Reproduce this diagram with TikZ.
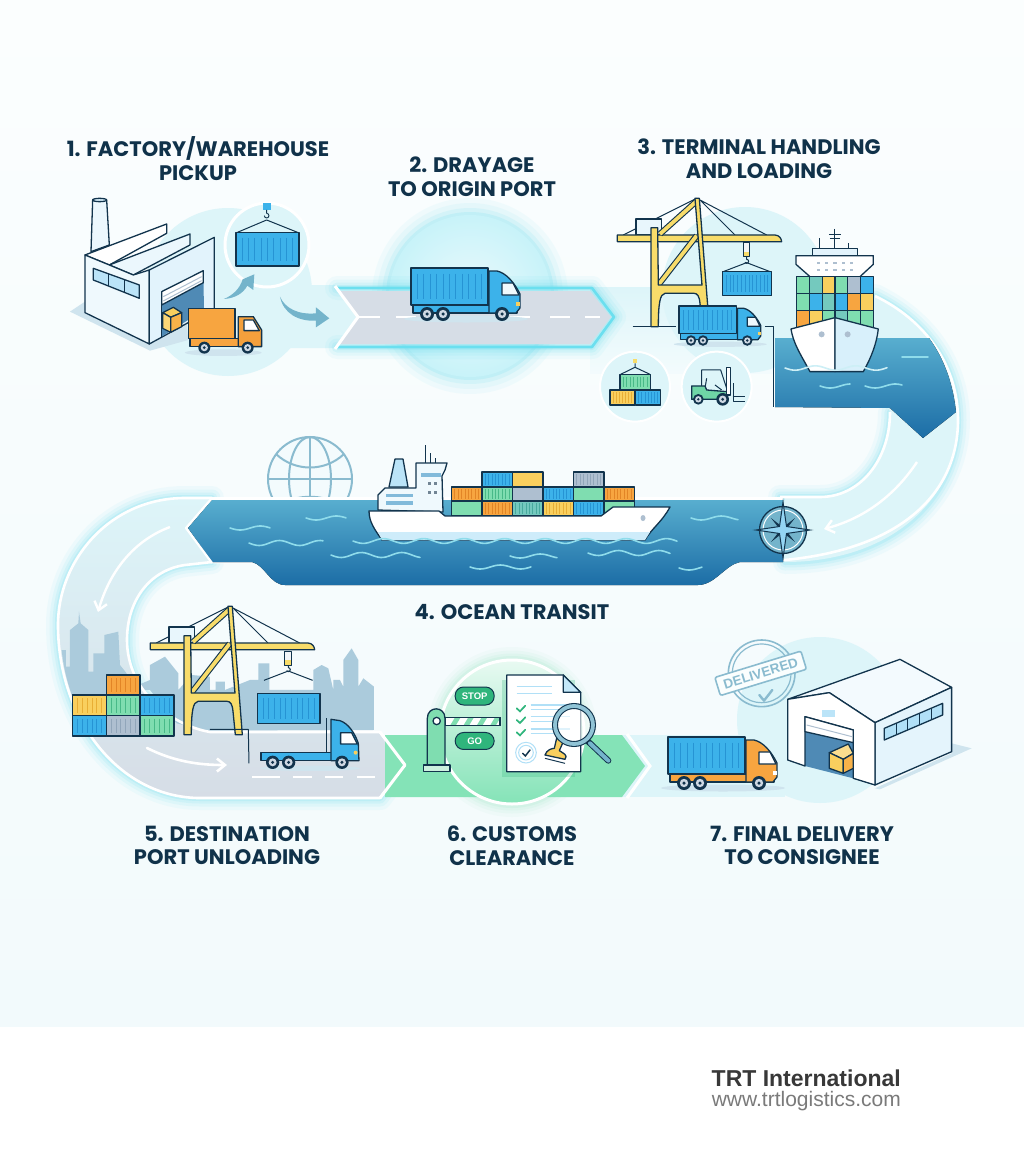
\documentclass[tikz,border=0pt]{standalone}
\usepackage{fontspec}
\setmainfont{Liberation Sans}
\newfontfamily\hdfont{Poppins}
\usetikzlibrary{arrows.meta}
\definecolor{navy}{HTML}{12344D}
\definecolor{hdc}{HTML}{10324A}
\definecolor{glowc}{HTML}{3AD4EA}
\definecolor{pale}{HTML}{DDF5F9}
\definecolor{cB}{HTML}{3CB2EA}\definecolor{rB}{HTML}{2694D4}
\definecolor{cO}{HTML}{F7A540}\definecolor{rO}{HTML}{E28526}
\definecolor{cG}{HTML}{7FDDB0}\definecolor{rG}{HTML}{48B988}
\definecolor{cY}{HTML}{F9CF5E}\definecolor{rY}{HTML}{E8AE35}
\definecolor{cT}{HTML}{74C9BE}\definecolor{rT}{HTML}{48AA9E}
\definecolor{cA}{HTML}{AEBFD0}\definecolor{rA}{HTML}{91A6BA}
\definecolor{seaT}{HTML}{58AECF}\definecolor{seaB}{HTML}{1C6DA6}
\definecolor{cranec}{HTML}{F8DC6A}
\definecolor{arrc}{HTML}{74B4CB}
\definecolor{wavc}{HTML}{8FDCEB}
\definecolor{stampc}{HTML}{8ABBCF}
\definecolor{sky}{HTML}{ABCBDC}
\definecolor{shad}{HTML}{CFE4EE}
\definecolor{roadc}{HTML}{D6DDE6}
\definecolor{greenb}{HTML}{84E3B7}
\definecolor{greend}{HTML}{2FB57C}
\definecolor{bgtop}{HTML}{FBFEFE}
\definecolor{bgbot}{HTML}{F2FAFC}
\tikzset{
  ol/.style={draw=navy,line width=1.3pt,line join=round},
  thinl/.style={navy,line width=1pt,line join=round},
  hd/.style={font=\hdfont\bfseries\fontsize{21}{23.5}\selectfont,text=hdc,align=center,inner sep=0pt},
}
% glow around a path
\newcommand\glowp[2][glowc]{\foreach \gw/\go in {24/.05,17/.07,11/.09,6/.12}{\draw[#1,line width=\gw pt,opacity=\go,line join=round,line cap=round] #2;}}
% container: x1 y1 x2 y2 kind ribs
\newcommand\ctn[6]{\fill[c#5] (#1,#2) rectangle (#3,#4);
  \ifnum#6>0 \foreach \ii in {1,...,#6}{\pgfmathsetmacro\rx{#1+(#3-#1)*\ii/(#6+1)}
    \draw[r#5,line width=1pt] (\rx,{#2+(#4-#2)*.15}) -- (\rx,{#2+(#4-#2)*.85});}\fi
  \draw[ol] (#1,#2) rectangle (#3,#4);}
% wheel
\newcommand\whl[3]{\fill[navy] (#1,#2) circle[radius=#3pt];\fill[cA!60] (#1,#2) circle[radius=#3*.6pt];\fill[navy] (#1,#2) circle[radius=#3*.25pt];}
% wave
\newcommand\wv[6][wavc]{\draw[#1,line cap=round,line width=1.6pt] plot[smooth,samples=#6,domain=0:#4] ({#2+\x},{#3+#5*sin(\x*8.9)});}
% truck with container, local coordinates
\newcommand\mytruck[4]{\begin{scope}[shift={(#1)},scale=#2]
  \fill[shad] (55,51) ellipse[x radius=62pt,y radius=3.5pt];
  \draw[ol,fill=#3] (2,37) rectangle (106,45);
  \draw[ol,fill=#3] (78,3) -- (86,3) .. controls (95,5) and (103,14) .. (109,26) -- (109,40) -- (105,45) -- (78,45) -- cycle;
  \draw[ol,fill=white!92!cB] (91,15) -- (102,15) -- (108,27) -- (91,27) -- cycle;
  \fill[cY] (105,34) rectangle (109,38);
  \ctn{0}{0}{77}{37}{B}{11}
  \whl{16}{46}{7}\whl{32}{46}{7}\whl{91}{46}{7}
\end{scope}}
% quay crane, local coordinates of the zoomed picture
\newcommand\mycrane[1]{\begin{scope}[shift={(#1)},scale=.3333]
  \draw[thinl] (100,315) -- (320,205) (330,210) -- (435,315) (330,210) -- (530,315);
  \draw[ol,fill=white!88!cB] (138,267) rectangle (215,315);
  \draw[ol,fill=cranec] (82,315) -- (555,315) .. controls (568,316) and (574,325) .. (575,335) -- (82,335) -- cycle;
  \draw[navy,line width=6pt] (210,312) -- (318,215) (205,465) -- (320,317);
  \draw[cranec,line width=3.8pt] (210,312) -- (318,215) (205,465) -- (320,317);
  \draw[ol,fill=cranec] (183,590) -- (183,293) -- (203,293) -- (205,465) -- (336,465) -- (315,205) -- (328,205) -- (358,590) -- (337,590) -- (330,520) .. controls (328,498) and (322,490) .. (312,490) -- (225,490) .. controls (210,492) and (205,520) .. (205,590) -- cycle;
\end{scope}}
% trolley, hook and cables; local coordinates
\newcommand\myhook[2]{\fill[white!85!cA] (#1-10,#2) rectangle (#1+10,#2+27);
  \fill[cranec] (#1-10,#2+27) rectangle (#1+10,#2+42);
  \draw[ol,line width=1pt] (#1-10,#2) rectangle (#1+10,#2+42);
  \draw[thinl] (#1,#2+42) -- (#1,#2+50) arc[start angle=90,end angle=-150,radius=6pt];
  \draw[thinl] (#1-73,#2+88) -- (#1,#2+60) -- (#1+73,#2+88);}
\begin{document}
\begin{tikzpicture}[x=1pt,y=-1pt]
\useasboundingbox (0,0) rectangle (1024,1154);
% background
\fill[top color=bgtop,bottom color=bgbot] (0,0) rectangle (1024,1027);
\fill[white] (0,1027) rectangle (1024,1154);

% ---------- step 1 blobs
\fill[pale] (228,292) circle[radius=84pt];
\fill[pale] (240,285) -- (335,285) -- (357,316) -- (335,348) -- (240,348) -- cycle;
\draw[white,line width=3pt,fill=pale] (267,245) circle[radius=42pt];

% ---------- step 3 blobs and bend
\fill[top color=pale,bottom color=pale!35!white] (590,287) rectangle (774,373);
\fill[pale] (745,290) circle[radius=83pt];
\glowp{(875,296) .. controls (925,320) and (958,365) .. (958,420) .. controls (958,500) and (890,562) .. (785,562)}
\glowp{(890,412) .. controls (890,460) and (860,497) .. (820,497) -- (780,497)}
\fill[pale] (875,296) .. controls (925,320) and (958,365) .. (958,420) .. controls (958,500) and (890,562) .. (785,562) -- (785,497) -- (820,497) .. controls (860,497) and (890,460) .. (890,412) -- (860,338) -- cycle;
\draw[white,line width=2.6pt] (875,296) .. controls (925,320) and (958,365) .. (958,420) .. controls (958,500) and (890,562) .. (740,562);
\draw[white,line width=2.6pt] (890,412) .. controls (890,460) and (860,497) .. (820,497) -- (780,497);
\draw[white,line width=2.4pt,-{Straight Barb[length=8pt,width=13pt]}] (917,462) .. controls (895,495) and (865,518) .. (824,529);

% ---------- step 3 sea
\fill[top color=seaT,bottom color=seaB] (775,338) -- (929,338) .. controls (945,360) and (953,385) .. (956,412) -- (923,438) -- (890,408) -- (775,407) -- cycle;

% ---------- step 2
\foreach \rr/\oo in {98/.05,93/.06,88/.09,84/.12}{\fill[glowc,opacity=\oo] (470,296) circle[radius=\rr pt];}
\shade[inner color=pale!60!white,outer color=glowc!28!white] (470,296) circle[radius=81pt];
\glowp{(337,288) -- (592,288) -- (614,317) -- (592,347) -- (337,347)}
\fill[roadc] (338,291) -- (359,317) -- (338,344) -- (590,344) -- (611,317) -- (590,291) -- cycle;
\draw[glowc!75!white,line width=2.6pt,line join=round] (337,288) -- (592,288) -- (614,317) -- (592,347) -- (337,347);
\draw[white,line width=3pt] (335,286) -- (358,317) -- (335,349);
\foreach \da/\db in {358/380,396/416,430/450,470/490,510/530,550/570,585/600}{\draw[white,line width=2pt] (\da,316.5) -- (\db,316.5);}

% ---------- lower left band with glow
\glowp{(212,498) -- (185,498) .. controls (110,498) and (58,560) .. (58,625) .. controls (58,720) and (120,798) .. (200,798) -- (380,798) -- (405,765)}
\glowp{(212,562) -- (185,565) .. controls (150,570) and (127,600) .. (127,640) .. controls (127,680) and (150,712) .. (185,725)}
\fill[top color=pale,middle color=pale!80!roadc,bottom color=roadc] (212,498) -- (185,498) .. controls (110,498) and (58,560) .. (58,625) .. controls (58,720) and (120,798) .. (200,798) -- (380,798) -- (405,765) -- (380,732) -- (248,732) -- (210,732) .. controls (170,725) and (127,690) .. (127,640) .. controls (127,600) and (150,570) .. (185,565) -- (212,562) -- cycle;
% skyline
\begin{scope}[shift={(50,590)},scale=.3333]
  \fill[sky] (35,180) -- (48,180) -- (48,230) -- (60,230) -- (60,120) -- (85,100) -- (87,65) -- (92,100) -- (115,120) -- (115,245) -- (130,245) -- (130,190) -- (163,190) -- (163,135) -- (205,125) -- (210,225) -- (230,250) -- (230,300) -- (120,440) .. controls (80,360) and (45,280) .. (35,180) -- cycle;
  \fill[sky] (230,300) -- (300,270) -- (300,225) -- (345,200) -- (385,250) -- (385,300) -- (425,255) -- (480,260) -- (480,300) -- (497,300) -- (497,275) -- (525,275) -- (525,300) -- (600,270) -- (625,270) -- (625,220) -- (658,220) -- (658,300) -- (790,300) -- (790,240) -- (815,225) -- (835,235) -- (850,300) -- (850,270) -- (870,270) -- (880,290) -- (880,210) -- (905,175) -- (925,210) -- (925,290) -- (940,265) -- (972,290) -- (972,420) -- (590,422) -- (480,425) -- (380,400) -- (300,300) -- cycle;
\end{scope}
\draw[white,line width=2.6pt,line join=round] (212,498) -- (185,498) .. controls (110,498) and (58,560) .. (58,625) .. controls (58,720) and (120,798) .. (200,798) -- (380,798) -- (405,765) -- (380,732) -- (248,732) -- (210,732) .. controls (170,725) and (127,690) .. (127,640) .. controls (127,600) and (150,570) .. (185,565) -- (212,562) -- (252,562);
\draw[white,line width=2.4pt,-{Straight Barb[length=8pt,width=13pt]}] (170,527) .. controls (135,540) and (110,570) .. (98,612);
\foreach \da/\db in {252/280,293/312,325/343,357/375}{\draw[white,line width=2pt] (\da,777) -- (\db,777);}
\draw[white,line width=2.6pt,line cap=round,-{Straight Barb[length=8pt,width=13pt]}] (147,748) .. controls (175,762) and (200,765) .. (227,765);

% ---------- ocean
\fill[white!65!pale] (310,479) circle[radius=42pt];
\begin{scope}[draw=stampc,line width=2pt]
  \draw (310,479) circle[radius=42pt];
  \draw (310,479) ellipse[x radius=21pt,y radius=42pt];
  \draw (310,437) -- (310,500) (268,479) -- (352,479);
  \draw (276,454) .. controls (295,472) and (325,472) .. (344,454);
  \draw (282,505) .. controls (295,494) and (325,494) .. (338,505);
\end{scope}
\fill[top color=seaT,bottom color=seaB] (188,528) -- (212,500) -- (783,500) -- (783,562) -- (740,562) .. controls (725,565) and (715,585) .. (698,585) -- (285,585) .. controls (270,585) and (265,565) .. (252,562) -- (212,562) -- cycle;
\draw[white,line width=2.2pt,line join=round] (212,498) -- (186,528) -- (212,563);
\draw[white,line width=2.2pt] (212,498.5) -- (783,498.5);
% waves
\wv{230}{528}{40}{2}{20}\wv{249}{543}{74}{2.5}{30}\wv{306}{518}{40}{2}{20}
\wv{331}{555}{89}{2.5}{35}\wv{510}{556}{47}{2}{20}\wv{588}{553}{82}{2.5}{30}
\wv{470}{567}{61}{2}{25}\wv{679}{568}{23}{2}{12}\wv{691}{518}{47}{2}{20}
% compass
\begin{scope}[shift={(783,530)}]
  \draw[ol,fill=arrc] (0,0) circle[radius=23.5pt];
  \draw[white,line width=1pt] (0,0) circle[radius=20pt];
  \draw[navy,line width=1pt,fill=navy] (-9,-9) -- (-2,0) -- (-9,9) -- (0,2) -- (9,9) -- (2,0) -- (9,-9) -- (0,-2) -- cycle;
  \draw[navy,line width=1pt,fill=cB!55!white] (0,-28) -- (3.5,-3.5) -- (27,0) -- (3.5,3.5) -- (0,28) -- (-3.5,3.5) -- (-27,0) -- (-3.5,-3.5) -- cycle;
\end{scope}
% ocean ship
\begin{scope}
  \draw[ol,fill=white!92!cB] (378,510) -- (378,495) -- (385,488) -- (416,488) -- (416,463) -- (447,463) -- (445,470) -- (442,476) -- (443,512) -- cycle;
  \fill[cA!60!cB] (386,494) rectangle (413,497);\fill[cA!60!cB] (386,501) rectangle (413,505);
  \fill[cA!60!cB] (421,473) rectangle (441,477);
  \foreach \a/\b in {428/482,434/482,428/491,434/491}{\fill[navy!60] (\a,\b) rectangle (\a+3,\b+3);}
  \draw[ol,fill=white!65!cB] (389,487) -- (395,459) -- (403,459) -- (408,487) -- cycle;
  \draw[thinl] (425,445) -- (425,463) (430,453) -- (430,463) (435,458) -- (435,463);
  \ctn{482}{472}{512.5}{487}{B}{8}\ctn{512.5}{472}{543}{487}{Y}{0}\ctn{573.5}{472}{604}{487}{A}{8}
  \ctn{451.5}{487}{482}{501}{O}{8}\ctn{482}{487}{512.5}{501}{G}{8}\ctn{512.5}{487}{543}{501}{A}{0}\ctn{543}{487}{573.5}{501}{B}{8}\ctn{573.5}{487}{604}{501}{G}{0}\ctn{604}{487}{634.5}{501}{O}{8}
  \ctn{451.5}{501}{482}{516}{G}{0}\ctn{482}{501}{512.5}{516}{O}{8}\ctn{512.5}{501}{543}{516}{T}{8}\ctn{543}{501}{573.5}{516}{Y}{8}\ctn{573.5}{501}{604}{516}{B}{8}\ctn{604}{501}{634.5}{516}{G}{0}
  \draw[ol,fill=white] (369,511) -- (439,511) -- (445,516) -- (601,516) -- (613,507) -- (670,507) .. controls (662,522) and (652,528) .. (645,540) -- (382,540) .. controls (375,530) and (369,522) .. (369,511) -- cycle;
  \fill[white!75!cB] (378,532) -- (650,532) -- (645,540) -- (382,540) -- cycle;
  \fill[cA] (643,518) ellipse[x radius=2.5pt,y radius=3pt];
  \wv{353}{541}{324}{2.4}{110}
\end{scope}

% ---------- step 6 / 7 bands
\fill[pale] (820,720) circle[radius=83pt];
\fill[pale] (622,735) rectangle (785,797);
\fill[greenb] (385,735) -- (622,735) -- (645,766) -- (622,797) -- (385,797) -- cycle;
\draw[white,line width=3pt] (627,734) -- (650,766) -- (627,798);
\draw[white,line width=3pt,line join=round] (380,732) -- (405,765) -- (380,798);
\glowp[greenb]{(512,732) circle[radius=73pt]}
\fill[top color=greenb!18!white,middle color=greenb!50!white,bottom color=greenb] (512,732) circle[radius=72pt];
\draw[white,line width=3pt] (512,732) circle[radius=72pt];

% ---------- icons of step 1
\begin{scope}[shift={(50,120)},scale=.3333]
  \fill[shad] (60,575) -- (105,545) -- (300,640) -- (410,610) -- (415,660) -- (300,692) -- cycle;
  \draw[ol,fill=white!90!cB] (123,395) -- (128,240) -- (170,240) -- (178,375) -- cycle;
  \draw[ol,fill=white!80!cB] (149,240) ellipse[x radius=21pt,y radius=5pt];
  \draw[ol,fill=white] (105,405) -- (350,312) -- (350,340) -- (178,435) -- cycle;
  \draw[ol,fill=white!90!cB] (178,435) -- (420,342) -- (420,375) -- (250,465) -- cycle;
  \draw[ol,fill=white!92!cB] (105,405) -- (178,435) -- (250,465) -- (298,450) -- (298,672) -- (105,578) -- cycle;
  \draw[ol,fill=white!85!cB] (298,450) -- (493,352) -- (493,565) -- (298,672) -- cycle;
  \draw[ol,fill=cB!35!white] (130,445) -- (268,495) -- (268,535) -- (130,480) -- cycle;
  \draw[navy,line width=.6pt] (175,462) -- (175,497) (222,478) -- (222,517);
  \fill[seaB!65!cA] (335,515) -- (460,452) -- (462,570) -- (335,650) -- cycle;
  \draw[ol,fill=white] (335,515) -- (460,452) -- (460,488) -- (335,555) -- cycle;
  \draw[cA,line width=1pt] (340,530) -- (455,470) (340,543) -- (455,482);
  \draw[ol] (335,515) -- (335,650);
  \draw[ol,fill=cY] (338,578) -- (370,562) -- (395,578) -- (362,592) -- cycle;
  \draw[ol,fill=cY!85!white] (338,578) -- (362,592) -- (362,637) -- (338,625) -- cycle;
  \draw[ol,fill=cO!70!cY] (362,592) -- (395,578) -- (395,620) -- (362,637) -- cycle;
  % hanging box
  \draw[ol,line width=.9pt] (650,280) arc[start angle=90,end angle=-180,radius=7pt];
  \fill[cB] (640,248) rectangle (662,270);
  \draw[thinl] (650,270) -- (650,280) (560,338) -- (650,300) -- (745,338);
  \ctn{558}{338}{747}{438}{B}{9}
  % arrows
  \fill[arrc] (522,537) .. controls (550,525) and (570,505) .. (578,478) -- (613,463) -- (610,510) -- (592,497) .. controls (580,520) and (555,535) .. (522,537) -- cycle;
  \fill[arrc] (690,530) .. controls (705,565) and (745,585) .. (798,580) -- (798,562) -- (838,595) -- (798,622) -- (798,602) .. controls (745,605) and (700,580) .. (690,530) -- cycle;
  % orange truck
  \fill[shad] (520,698) ellipse[x radius=115pt,y radius=10pt];
  \draw[ol,fill=cO] (420,655) rectangle (635,680);
  \draw[ol,fill=cO!85!rO] (565,590) -- (610,590) -- (635,630) -- (635,680) -- (565,680) -- cycle;
  \draw[ol,fill=white] (582,600) -- (610,600) -- (628,632) -- (582,632) -- cycle;
  \draw[ol,fill=cO] (415,565) rectangle (555,655);
  \whl{463}{683}{18}\whl{593}{683}{18}
\end{scope}
\node[hd] (t1) at (198,158.5) {1. FACTORY/WAREHOUSE\\PICKUP};
\node[hd] (t2) at (472,176.5) {2. DRAYAGE\\TO ORIGIN PORT};
\node[hd] (t3) at (759,158.5) {3. TERMINAL HANDLING\\AND LOADING};
\node[hd] (t4) at (512,612) {4. OCEAN TRANSIT};
\node[hd] (t5) at (227,845.5) {5. DESTINATION\\PORT UNLOADING};
\node[hd] (t6) at (512,845.5) {6. CUSTOMS\\CLEARANCE};
\node[hd] (t7) at (802,845.5) {7. FINAL DELIVERY\\TO CONSIGNEE};

% ---------- truck of step 2
\mytruck{411,268}{1}{cB}{}

% ---------- icons of step 3
\mycrane{590,130}
\begin{scope}[shift={(590,130)},scale=.3333]
  \draw[thinl] (128,590) -- (258,590);
  \draw[thinl] (525,590) -- (552,590) -- (552,830);
  \myhook{470}{338}
  \ctn{398}{425}{545}{497}{B}{12}
  % small discs
  \draw[white,line width=2pt,fill=pale] (135,770) circle[radius=105pt];
  \draw[white,line width=2pt,fill=pale] (380,770) circle[radius=105pt];
  \fill[cranec] (128,688) rectangle (142,700);\draw[thinl] (135,700) -- (135,712) (92,733) -- (135,712) -- (180,733);
  \ctn{90}{733}{182}{778}{G}{8}\ctn{60}{780}{135}{825}{Y}{7}\ctn{137}{780}{212}{825}{B}{7}
  \draw[thinl] (335,780) -- (335,720) -- (392,720) -- (410,775);
  \draw[thinl] (345,775) -- (350,745) (375,765) -- (395,780);
  \draw[ol,fill=cG!80!greend] (305,768) -- (345,768) -- (350,780) -- (410,785) -- (410,808) -- (305,808) -- cycle;
  \draw[ol,fill=white] (410,712) rectangle (422,795);
  \draw[thinl] (430,760) -- (430,815) -- (465,815) (428,800) -- (465,800);
  \whl{325}{808}{16}\whl{398}{808}{19}
  % front ship
  \draw[thinl] (735,297) -- (735,355) (717,313) -- (753,313) (720,327) -- (750,327) (688,325) -- (688,355) (775,340) -- (775,355);
  \draw[ol,fill=white!85!cB] (668,355) rectangle (803,377);
  \draw[ol,fill=white] (618,377) -- (850,377) -- (850,403) -- (810,440) -- (660,440) -- (618,403) -- cycle;
  \foreach \a in {680,705,730,755,780}{\fill[cA] (\a,397) rectangle (\a+10,402);\fill[cA] (\a,418) rectangle (\a+10,423);}
  \foreach \k [count=\i from 0] in {G,T,Y,G,A,B}{\pgfmathsetmacro\xa{620+\i*38.3}\pgfmathsetmacro\xb{\xa+38.3}\ctn{\xa}{440}{\xb}{490}{\k}{0}}
  \foreach \k [count=\i from 0] in {G,B,T,B,O,Y}{\pgfmathsetmacro\xa{620+\i*38.3}\pgfmathsetmacro\xb{\xa+38.3}\ctn{\xa}{490}{\xb}{542}{\k}{0}}
  \foreach \k [count=\i from 0] in {O,Y,G,T,G,G}{\pgfmathsetmacro\xa{620+\i*38.3}\pgfmathsetmacro\xb{\xa+38.3}\ctn{\xa}{542}{\xb}{592}{\k}{0}}
  \draw[ol,fill=white] (603,597) -- (735,563) -- (735,725) -- (660,725) .. controls (630,670) and (610,640) .. (603,597) -- cycle;
  \draw[ol,fill=white!80!cB] (735,563) -- (865,597) .. controls (860,640) and (845,680) .. (820,725) -- (735,725) -- cycle;
  \fill[cA] (695,613) circle[radius=9pt];\fill[cA] (773,613) circle[radius=9pt];
\end{scope}
\wv[white!55!wavc]{785}{368}{102}{2.2}{40}
\wv{820}{386}{30}{2}{15}\wv{865}{386}{37}{2}{15}
\draw[wavc,line width=1.7pt,line cap=round] (902,357) -- (928,357);
\mytruck{679,306}{.75}{cB}{}

% ---------- icons of step 5
\mycrane{123,538}
\begin{scope}[shift={(50,590)},scale=.3333]
  \draw[thinl] (480,418) -- (595,418) -- (597,520);
  \myhook{715}{183}
  \ctn{622}{310}{810}{400}{B}{10}
  \ctn{170}{255}{270}{315}{O}{6}
  \ctn{68}{315}{170}{377}{Y}{6}\ctn{170}{315}{270}{377}{G}{6}\ctn{270}{315}{372}{377}{B}{6}
  \ctn{68}{377}{170}{438}{B}{6}\ctn{170}{377}{270}{438}{A}{6}\ctn{270}{377}{372}{438}{G}{6}
  \fill[shad] (780,535) ellipse[x radius=150pt,y radius=8pt];
  \draw[thinl] (830,385) -- (830,487);
  \draw[ol,fill=cB] (633,487) rectangle (845,512);
  \draw[ol,fill=cB] (843,388) -- (870,392) .. controls (895,400) and (915,430) .. (925,460) -- (927,512) -- (843,512) -- cycle;
  \draw[ol,fill=white] (872,428) -- (905,428) -- (922,462) -- (872,462) -- cycle;
  \fill[cY] (917,488) circle[radius=6pt];
  \whl{668}{517}{20}\whl{716}{517}{20}\whl{876}{517}{20}
\end{scope}

% ---------- icons of step 6
\begin{scope}[shift={(400,640)},scale=.3333]
  \fill[greend,opacity=.25] (305,120) rectangle (525,410);
  \draw[ol,fill=white] (320,105) -- (490,105) -- (542,157) -- (542,395) -- (320,395) -- cycle;
  \draw[ol,fill=cB!30!white] (490,105) -- (490,157) -- (542,157) -- cycle;
  \draw[cB!40!white,line width=1.6pt] (350,140) -- (455,140) (350,160) -- (455,160);
  \foreach \yy in {205,240,277}{\draw[greend,line width=1.7pt,line cap=round] (350,\yy) -- (360,\yy+9) -- (376,\yy-8);
    \draw[cB!40!white,line width=1.4pt] (392,\yy-10) -- (510,\yy-10) (392,\yy+4) -- (480,\yy+4);}
  \draw[cB!40!white,line width=1pt] (378,338) circle[radius=31pt];\draw[cB!40!white,line width=1pt] (378,338) circle[radius=22pt];
  \draw[navy,line width=1.5pt,line cap=round] (368,340) -- (376,348) -- (390,330);
  \draw[ol,fill=cY] (470,295) -- (490,305) -- (478,332) .. controls (490,340) and (505,345) .. (495,358) -- (435,345) .. controls (440,330) and (455,325) .. (463,325) -- cycle;
  \draw[thinl] (435,355) -- (495,370);
  % barrier
  \draw[ol,fill=white] (135,232) rectangle (300,257);
  \begin{scope}
    \clip (135,232) rectangle (300,257);
    \foreach \sx in {150,190,230,270}{\fill[cG] (\sx,257) -- (\sx+15,232) -- (\sx+32,232) -- (\sx+17,257) -- cycle;}
  \end{scope}
  \draw[ol] (135,232) rectangle (300,257);
  \draw[ol,fill=cG] (82,375) -- (82,235) .. controls (82,197) and (135,197) .. (135,235) -- (135,375) -- cycle;
  \draw[ol,fill=white] (110,243) circle[radius=11pt];
  \draw[ol,fill=white!60!cG] (70,375) rectangle (150,395);
  \node[draw=navy,line width=1pt,fill=greend,rounded corners=8.5pt,minimum width=39pt,minimum height=18pt,inner sep=0pt,text=white,font=\bfseries\fontsize{9.5}{10}\selectfont] (stop) at (224,168) {STOP};
  \node[draw=navy,line width=1pt,fill=greend,rounded corners=8.5pt,minimum width=39pt,minimum height=17pt,inner sep=0pt,text=white,font=\bfseries\fontsize{9.5}{10}\selectfont] (go) at (224,303) {GO};
  % magnifier
  \draw[navy,line width=6pt,line cap=round] (565,305) -- (625,362);
  \draw[arrc,line width=4pt,line cap=round] (570,310) -- (625,362);
  \fill[white,opacity=.6] (522,255) circle[radius=52pt];
  \draw[navy,line width=6pt] (522,255) circle[radius=57pt];
  \draw[arrc!80!white,line width=3.8pt] (522,255) circle[radius=57pt];
\end{scope}

% ---------- icons of step 7
\begin{scope}[shift={(640,630)},scale=.3333]
  \fill[shad] (705,475) -- (935,370) -- (935,340) -- (995,355) -- (720,478) -- cycle;
  \draw[stampc,line width=1.6pt] (365,130) circle[radius=100pt];
  \draw[stampc,line width=1.2pt] (365,130) circle[radius=88pt];
  \node[draw=stampc,line width=1.6pt,fill=white!85!pale,rounded corners=2pt,rotate=17,minimum width=90pt,minimum height=19pt,inner sep=0pt,text=stampc,font=\bfseries\fontsize{13.5}{14}\selectfont] (deliv) at (362,130) {DELIVERED};
  \draw[stampc,line width=2.4pt,line cap=round,line join=round] (358,195) -- (372,212) -- (397,180);
  \draw[ol,fill=white!94!cB] (443,208) -- (780,88) -- (935,172) -- (705,278) -- (568,188) -- cycle;
  \draw[ol,fill=white!86!cB] (705,278) -- (935,172) -- (935,365) -- (705,465) -- cycle;
  \fill[seaB!65!cA] (495,260) -- (640,300) -- (640,445) -- (495,408) -- cycle;
  \draw[ol,fill=white] (443,208) -- (568,188) -- (705,278) -- (705,465) -- (640,445) -- (640,300) -- (495,260) -- (495,408) -- (443,390) -- cycle;
  \draw[ol,fill=white] (495,260) -- (640,300) -- (640,338) -- (495,305) -- cycle;
  \draw[cA,line width=1pt] (500,285) -- (636,320);
  \fill[cB!35!white] (545,240) rectangle (585,262);
  \draw[ol,fill=cB!40!white] (733,295) -- (908,220) -- (908,255) -- (733,330) -- cycle;
  \draw[navy,line width=.7pt] (768,280) -- (768,315) (803,265) -- (803,300) (838,250) -- (838,285) (873,235) -- (873,270);
  \draw[ol,fill=cY!70!white] (568,368) -- (625,342) -- (640,370) -- (610,388) -- cycle;
  \draw[ol,fill=cY] (568,368) -- (610,388) -- (610,430) -- (568,415) -- cycle;
  \draw[ol,fill=cO!70!cY] (610,388) -- (640,370) -- (640,415) -- (610,430) -- cycle;
\end{scope}
\begin{scope}[shift={(668,737)}]
  \fill[shad] (55,51) ellipse[x radius=62pt,y radius=3.5pt];
  \draw[ol,fill=cO] (2,37) rectangle (106,45);
  \draw[ol,fill=cO] (78,3) -- (86,3) .. controls (95,5) and (103,14) .. (109,26) -- (109,40) -- (105,45) -- (78,45) -- cycle;
  \draw[ol,fill=white] (91,15) -- (102,15) -- (108,27) -- (91,27) -- cycle;
  \fill[white] (105,34) rectangle (109,38);
  \ctn{0}{0}{77}{37}{B}{11}
  \whl{16}{46}{7}\whl{32}{46}{7}\whl{91}{46}{7}
\end{scope}

% ---------- footer
\node[anchor=east,inner sep=0pt,font=\bfseries\fontsize{23}{25}\selectfont,text=black!78] (brand) at (901,1078) {TRT International};
\node[anchor=east,inner sep=0pt,font=\fontsize{21}{23}\selectfont,text=black!52] (web) at (901,1101) {www.trtlogistics.com};
\end{tikzpicture}
\end{document}
